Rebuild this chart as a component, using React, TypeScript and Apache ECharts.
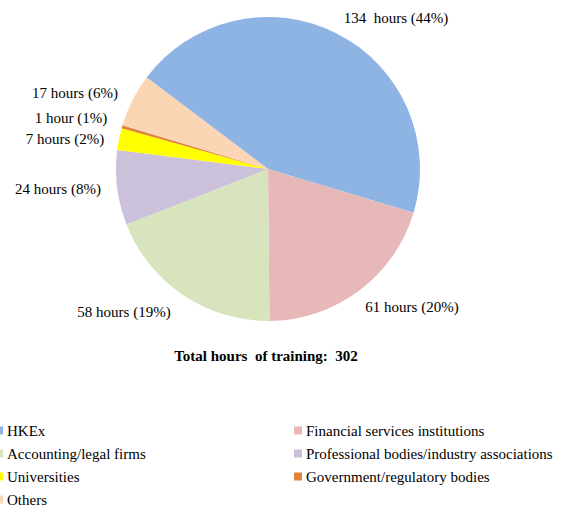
import React, { useEffect, useRef } from "react";
import * as echarts from "echarts";

const categories = [
  "HKEx",
  "Financial services institutions",
  "Accounting/legal firms",
  "Professional bodies/industry associations",
  "Universities",
  "Government/regulatory bodies",
  "Others",
];
const hours = [134, 61, 58, 24, 7, 1, 17];
const labelTexts = [
  "134  hours (44%)",
  "61 hours (20%)",
  "58 hours (19%)",
  "24 hours (8%)",
  "7 hours (2%)",
  "1 hour (1%)",
  "17 hours (6%)",
];
const colors = ["#8EB4E3", "#E6B9B8", "#D7E4BD", "#CCC1DA", "#FFFF00", "#E0843C", "#FCD5B5"];
const titleText = "Total hours  of training:  302";
const leftLegend = ["HKEx", "Accounting/legal firms", "Universities", "Others"];
const rightLegend = [
  "Financial services institutions",
  "Professional bodies/industry associations",
  "Government/regulatory bodies",
];

const labelCenters: [number, number][] = [
  [396, 18],
  [412, 307],
  [124, 312],
  [58, 189],
  [65, 139],
  [71, 118],
  [75, 93],
];

const FONT = "Liberation Serif";

export default function App() {
  const ref = useRef<HTMLDivElement>(null);
  useEffect(() => {
    if (!ref.current) return;
    const chart = echarts.init(ref.current, null, { renderer: "svg" });
    const legendCommon = {
      orient: "vertical" as const,
      top: 423,
      padding: 0,
      height: 90,
      itemWidth: 8,
      itemHeight: 8,
      itemGap: 8,
      icon: "rect",
      textStyle: { fontFamily: FONT, fontSize: 15, lineHeight: 15, color: "#000", padding: [0, 0, 0, -1] },
      selectedMode: false,
    };
    chart.setOption({
      animation: false,
      backgroundColor: "#fff",
      color: colors,
      title: {
        text: titleText,
        left: 266,
        textAlign: "center",
        top: 348,
        padding: 0,
        textStyle: { fontFamily: FONT, fontSize: 15, fontWeight: "bold", color: "#000" },
      },
      legend: [
        { ...legendCommon, left: -5, data: leftLegend },
        { ...legendCommon, left: 294, data: rightLegend },
      ],
      series: [
        {
          type: "pie",
          center: [268, 169],
          radius: 152,
          startAngle: 143,
          clockwise: true,
          avoidLabelOverlap: false,
          data: categories.map((c, i) => ({ name: c, value: hours[i] })),
          label: {
            show: true,
            position: "outside",
            formatter: (p: any) => labelTexts[p.dataIndex],
            fontFamily: FONT,
            fontSize: 15,
            color: "#000",
            overflow: "none",
            width: 200,
          },
          labelLine: { show: false },
          labelLayout: (p: any) => {
            const c = labelCenters[p.dataIndex];
            return { x: c[0], y: c[1], align: "center", verticalAlign: "middle" };
          },
          emphasis: { disabled: true },
        },
      ],
    });
    return () => chart.dispose();
  }, []);
  return (
    <div
      ref={ref}
      style={{ position: "fixed", left: 0, top: 0, width: 561, height: 506 }}
    />
  );
}
